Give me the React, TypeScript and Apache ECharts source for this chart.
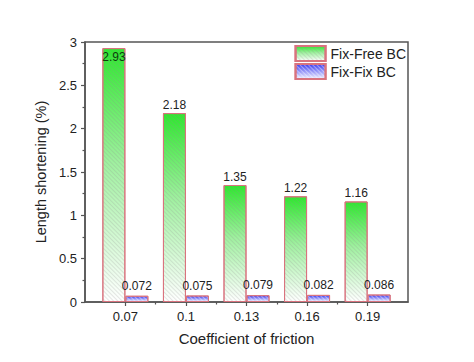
import React, { useEffect, useRef } from "react";
import * as echarts from "echarts";

const axisCats = [
  "0.05", "0.055", "0.06", "0.065", "0.07", "0.075", "0.08", "0.085", "0.09", "0.095",
  "0.1", "0.105", "0.11", "0.115", "0.12", "0.125", "0.13", "0.135", "0.14", "0.145",
  "0.15", "0.155", "0.16", "0.165", "0.17", "0.175", "0.18", "0.185", "0.19", "0.195",
  "0.2", "0.205", "0.21",
];
const frictions = ["0.07", "0.1", "0.13", "0.16", "0.19"];
const minorTicks = ["0.085", "0.115", "0.145", "0.175"];
const fixFree = [2.93, 2.18, 1.35, 1.22, 1.16];
const fixFix = [0.072, 0.075, 0.079, 0.082, 0.086];
const fixFreeLabels = ["2.93", "2.18", "1.35", "1.22", "1.16"];
const fixFixLabels = ["0.072", "0.075", "0.079", "0.082", "0.086"];
const yTicks = ["0", "0.5", "1", "1.5", "2", "2.5", "3"];

const FONT = "Liberation Sans, Arial, sans-serif";

export default function App() {
  const ref = useRef<HTMLDivElement>(null);
  useEffect(() => {
    if (!ref.current) return;
    const chart = echarts.init(ref.current, null, { renderer: "svg" });
    const hatch = {
      symbol: "rect",
      symbolSize: 1,
      color: "rgba(140,140,140,0.22)",
      dashArrayX: [1, 0],
      dashArrayY: [1, 2],
      rotation: Math.PI / 4,
    };
    const greenFill = new echarts.graphic.LinearGradient(0, 0, 0, 1, [
      { offset: 0, color: "#2ee82e" },
      { offset: 0.45, color: "#9ff09f" },
      { offset: 1, color: "#ffffff" },
    ]);
    const blueFill = new echarts.graphic.LinearGradient(0, 0, 0, 1, [
      { offset: 0, color: "#3a3af0" },
      { offset: 1, color: "#f4f4ff" },
    ]);
    chart.setOption({
      animation: false,
      textStyle: { fontFamily: FONT },
      grid: {
        left: 85,
        right: 66,
        top: 42,
        bottom: 60,
        show: true,
        borderColor: "#555",
        borderWidth: 1.5,
        backgroundColor: "transparent",
      },
      legend: {
        orient: "vertical",
        right: 68,
        top: 45,
        padding: 0,
        icon: "rect",
        itemWidth: 30,
        itemHeight: 15,
        itemGap: 1,
        textStyle: { fontSize: 14, color: "#222", fontFamily: FONT },
        data: ["Fix-Free BC", "Fix-Fix BC"],
      },
      xAxis: [
        {
          type: "category",
          data: axisCats,
          boundaryGap: false,
          name: "Coefficient of friction",
          nameLocation: "middle",
          nameGap: 29,
          nameTextStyle: { fontSize: 15, color: "#222", fontFamily: FONT },
          axisLine: { show: true, lineStyle: { color: "#555", width: 1.5 } },
          axisTick: {
            show: true,
            inside: false,
            length: 4,
            interval: (i: number, v: string) => frictions.includes(v),
            lineStyle: { color: "#555", width: 1.2 },
          },
          axisLabel: {
            interval: (i: number, v: string) => frictions.includes(v),
            fontSize: 13,
            color: "#222",
            margin: 8,
            fontFamily: FONT,
          },
          splitLine: { show: false },
        },
        {
          type: "category",
          data: axisCats,
          boundaryGap: false,
          position: "bottom",
          axisLine: { show: false },
          axisTick: {
            show: true,
            inside: false,
            length: 2.5,
            interval: (i: number, v: string) => minorTicks.includes(v),
            lineStyle: { color: "#555", width: 1.2 },
          },
          axisLabel: { show: false },
          splitLine: { show: false },
        },
      ],
      yAxis: {
        type: "value",
        min: 0,
        max: 3,
        interval: 0.5,
        name: "Length shortening (%)",
        nameLocation: "middle",
        nameGap: 34,
        nameTextStyle: { fontSize: 14.5, color: "#222", fontFamily: FONT },
        axisLine: { show: true, lineStyle: { color: "#555", width: 1.5 } },
        axisTick: { show: true, inside: false, length: 4, lineStyle: { color: "#555", width: 1.2 } },
        minorTick: { show: true, splitNumber: 2, length: 2.5, lineStyle: { color: "#555", width: 1.2 } },
        axisLabel: {
          fontSize: 13,
          color: "#222",
          margin: 8,
          fontFamily: FONT,
          formatter: (v: number) => yTicks[Math.round(v * 2)] ?? String(v),
        },
        splitLine: { show: false },
      },
      series: [
        {
          name: "Fix-Free BC",
          type: "bar",
          xAxisIndex: 0,
          barWidth: 23,
          barGap: "0%",
          itemStyle: {
            color: greenFill,
            borderColor: "#d9737e",
            borderWidth: 1,
            decal: hatch,
          },
          label: {
            show: true,
            position: "top",
            distance: 2,
            fontSize: 12,
            color: "#222",
            fontFamily: FONT,
            formatter: (p: any) => fixFreeLabels[p.dataIndex],
          },
          data: fixFree.map((v, i) => {
            const item: any = { value: [axisCats.indexOf(frictions[i]), v] };
            if (i === 0) {
              item.label = { position: "insideTop", distance: 3, color: "#0d3d0d", fontSize: 12 };
            }
            return item;
          }),
        },
        {
          name: "Fix-Fix BC",
          type: "bar",
          xAxisIndex: 0,
          barWidth: 23,
          barGap: "0%",
          itemStyle: {
            color: blueFill,
            borderColor: "#d9737e",
            borderWidth: 1,
            decal: { ...hatch, color: "rgba(255,255,255,0.4)" },
          },
          label: {
            show: true,
            position: "top",
            distance: 4,
            fontSize: 12,
            color: "#222",
            fontFamily: FONT,
            formatter: (p: any) => fixFixLabels[p.dataIndex],
          },
          data: fixFix.map((v, i) => ({ value: [axisCats.indexOf(frictions[i]), v] })),
        },
      ],
    });
    return () => chart.dispose();
  }, []);
  return (
    <div
      ref={ref}
      style={{ position: "fixed", left: 0, top: 0, width: 474, height: 362, background: "#fff" }}
    />
  );
}
